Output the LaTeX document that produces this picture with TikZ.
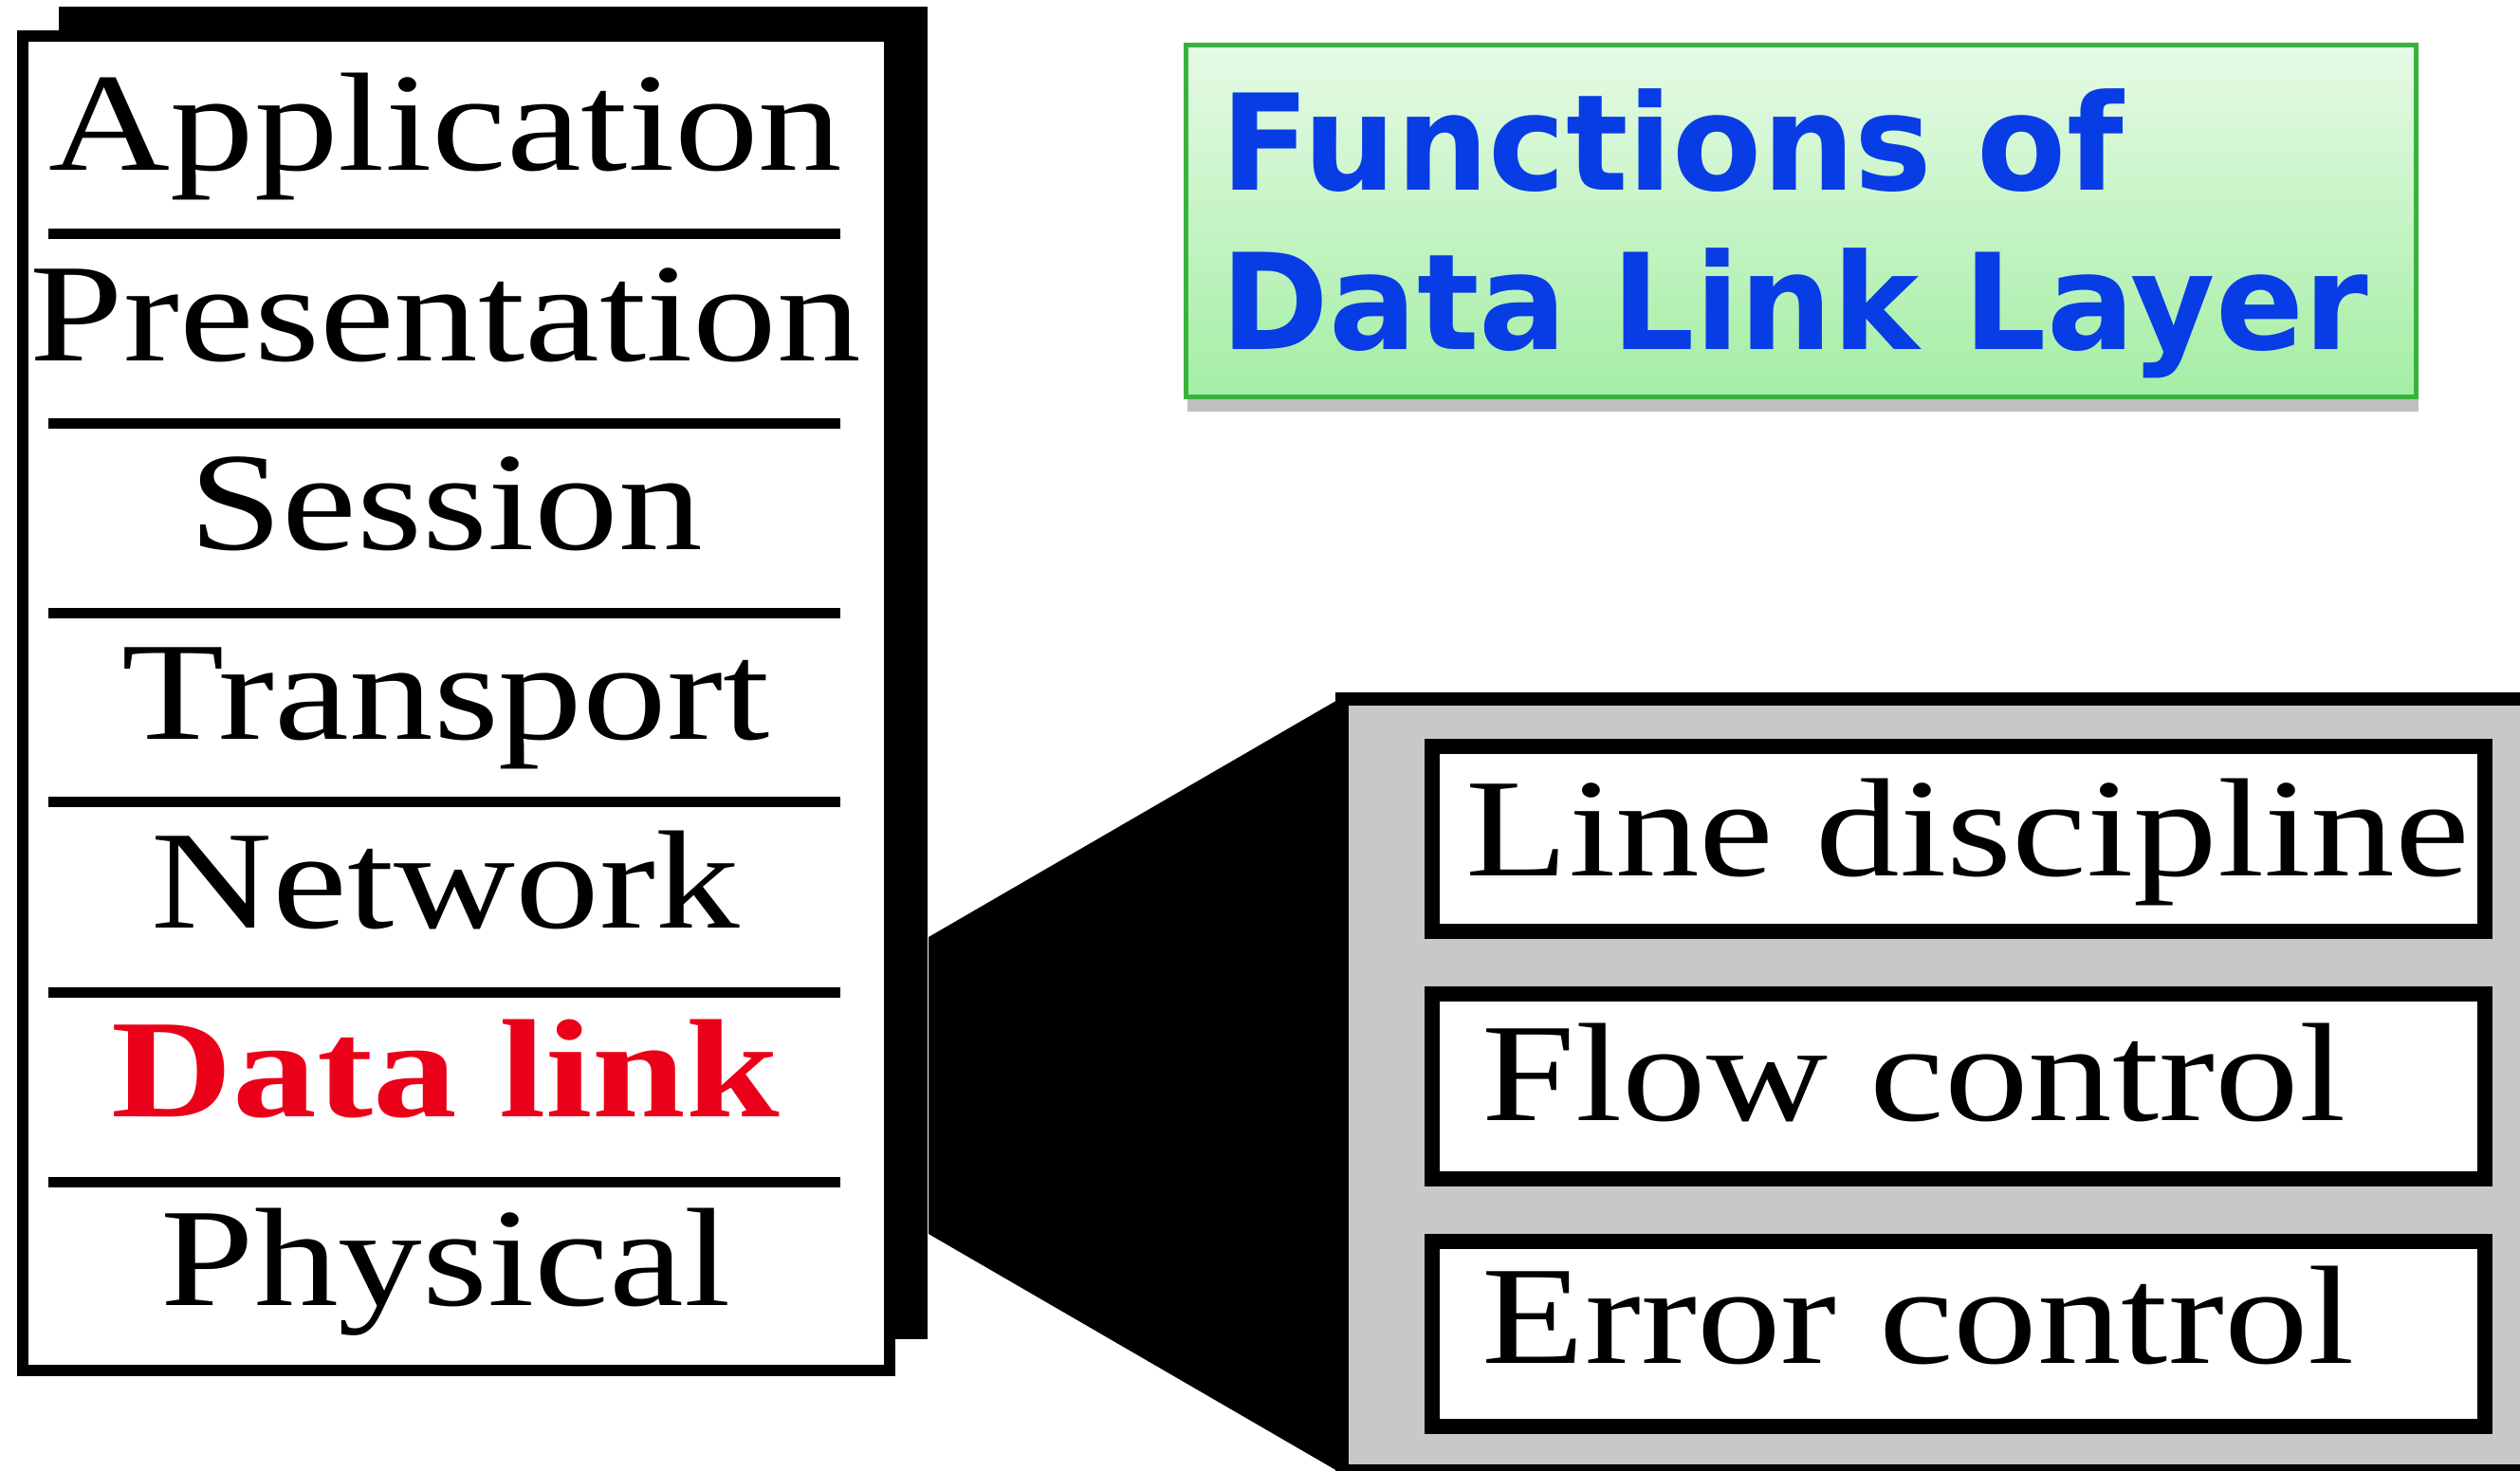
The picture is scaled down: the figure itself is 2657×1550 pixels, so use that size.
\documentclass[tikz,border=0pt]{standalone}
\usepackage{fontspec}
\setmainfont{Liberation Serif}[FakeStretch=1.2]
\newfontfamily\titlefont{DejaVu Sans}[FakeStretch=0.975]
\usetikzlibrary{positioning,calc}
\definecolor{dlred}{RGB}{235,0,25}
\definecolor{titleblue}{RGB}{8,60,228}
\definecolor{boxgreen}{RGB}{58,178,62}
\definecolor{greentop}{RGB}{230,250,230}
\definecolor{greenbot}{RGB}{164,238,164}
\definecolor{panelgray}{RGB}{200,200,200}
\tikzset{
  layer/.style={anchor=base,inner sep=0pt,font=\fontsize{42}{50}\selectfont},
  func/.style={anchor=base west,inner sep=0pt,font=\fontsize{42}{50}\selectfont},
  funcbox/.style={draw,line width=0.16cm,fill=white,minimum width=11.1cm,minimum height=1.95cm,inner sep=0pt},
  titleline/.style={anchor=base west,inner sep=0pt,text=titleblue,font=\titlefont\bfseries\fontsize{40}{48}\selectfont},
}
\begin{document}
\begin{tikzpicture}[x=0.01cm,y=-0.01cm]
\useasboundingbox (0,0) rectangle (2657,1550);
% OSI stack with its shadow
\fill (62,7) rectangle (978,1412);
\draw[line width=0.12cm,fill=white] (24,38) rectangle (938,1445);
\draw[line width=0.11cm]
  (51,246) -- (886,246)
  (51,446) -- (886,446)
  (51,646) -- (886,646)
  (51,845) -- (886,845)
  (51,1046) -- (886,1046)
  (51,1246) -- (886,1246);
\node[layer] (App) at (470,179) {Application};
\node[layer] (Pres) at (470,380) {Presentation};
\node[layer] (Sess) at (470,579) {Session};
\node[layer] (Trans) at (470,779) {Transport};
\node[layer] (Net) at (470,978) {Network};
\node[layer,text=dlred,font=\fontsize{42}{50}\selectfont\bfseries] (DL) at (470,1177) {Data link};
\node[layer] (Phys) at (470,1376) {Physical};
% zoom funnel and panel
\fill (979,988) -- (1412,737) -- (1412,1552) -- (979,1301) -- cycle;
\draw[line width=0.14cm,fill=panelgray] (1415,737) rectangle (2720,1551);
\node[funcbox] (LDbox) at (2065,884.5) {};
\node[funcbox] (FCbox) at (2065,1145.5) {};
\node[funcbox] (ECbox) at (2065,1406.5) {};
\node[func] (LD) at (1545,923) {Line discipline};
\node[func] (FC) at (1562,1181) {Flow control};
\node[func] (EC) at (1562,1437) {Error control};
% title
\fill[black!25] (1252,418) rectangle (2550,434);
\shade[top color=greentop,bottom color=greenbot,draw=boxgreen,line width=0.05cm] (1250,47) rectangle (2547,418);
\node[titleline] (TitleA) at (1287,200) {Functions of};
\node[titleline] (TitleB) at (1287,368) {Data Link Layer};
\end{tikzpicture}
\end{document}
